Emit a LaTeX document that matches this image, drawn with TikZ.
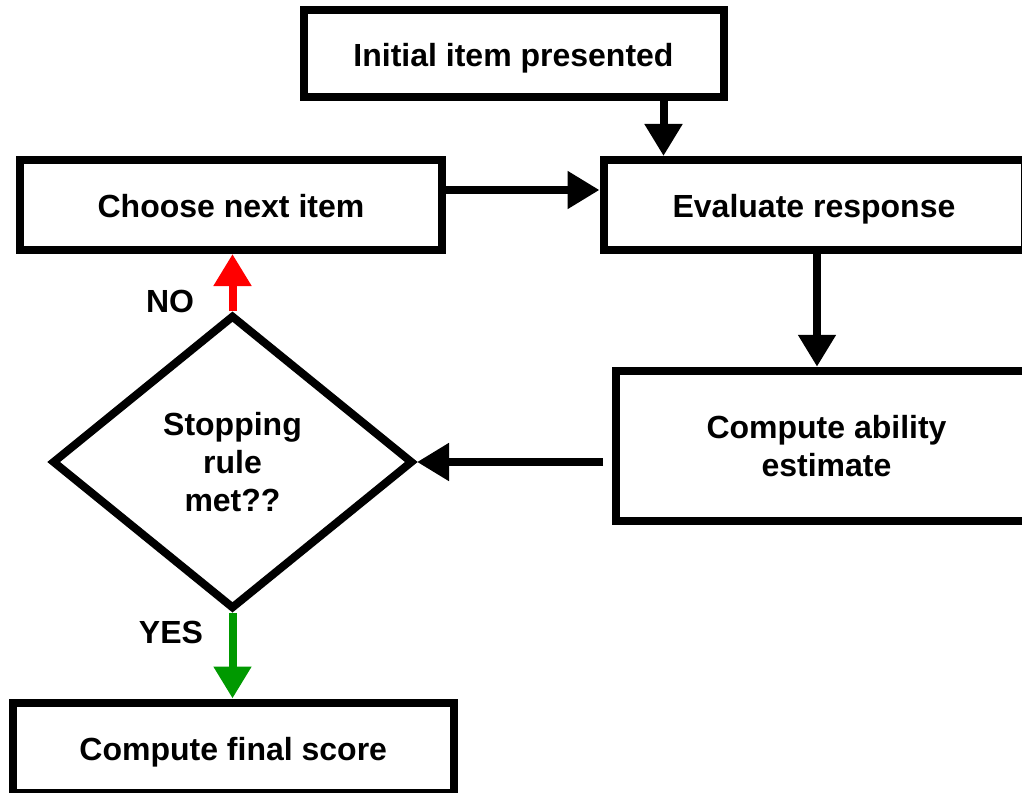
\documentclass[tikz,border=0pt]{standalone}
\usepackage{fontspec}
\setmainfont{Liberation Sans}
\usetikzlibrary{arrows.meta}
\usetikzlibrary{shapes.geometric}
\definecolor{nored}{RGB}{255,0,0}
\definecolor{yesgreen}{RGB}{0,153,0}

\begin{document}
\begin{tikzpicture}[x=0.5pt,y=-0.5pt,
  font=\fontsize{16}{19}\selectfont\bfseries,
  box/.style={draw,line width=4pt,minimum width=210pt,minimum height=45pt,align=center,inner sep=0pt},
  onebox/.style={box,text height=12.5pt,text depth=0pt},
  arr/.style={line width=4pt,-{Triangle[width=18pt,length=16pt]}}]
\useasboundingbox (0,0) rectangle (1022,792);
\clip (0,0) rectangle (1022,792);
\node[onebox,minimum height=43.5pt] (init) at (513.5,54) {Initial item presented};
\node[onebox,minimum width=210.5pt] (evaluate) at (814,205) {Evaluate response};
\node[onebox,minimum width=211pt] (choose) at (231,205) {Choose next item};
\node[box,minimum width=210.5pt,minimum height=75.25pt] (compute) at (826.5,446) {Compute ability\\estimate};
\node[draw,diamond,line width=4pt,minimum width=180.5pt,minimum height=147pt,inner sep=0pt,align=center] (stop) at (232.5,462) {Stopping\\rule\\met??};
\node[onebox,minimum width=220.75pt] (final) at (233.25,747.5) {Compute final score};
\node (lblno) at (170,301) {NO};
\node (lblyes) at (171,632) {YES};

\draw[arr] ([xshift=75pt]init.south) -- ([xshift=75pt]init.south |- evaluate.north);
\draw[arr] ([yshift=7.5pt]choose.east) -- ([yshift=7.5pt]choose.east -| evaluate.west);
\draw[arr] ([xshift=1.5pt]evaluate.south) -- ([xshift=1.5pt]evaluate.south |- compute.north);
\draw[arr,shorten <=4.5pt] (compute.west |- stop.east) -- (stop.east);
\draw[arr,nored] (stop.north) -- (stop.north |- choose.south);
\draw[arr,yesgreen] (stop.south) -- (stop.south |- final.north);
\end{tikzpicture}
\end{document}
